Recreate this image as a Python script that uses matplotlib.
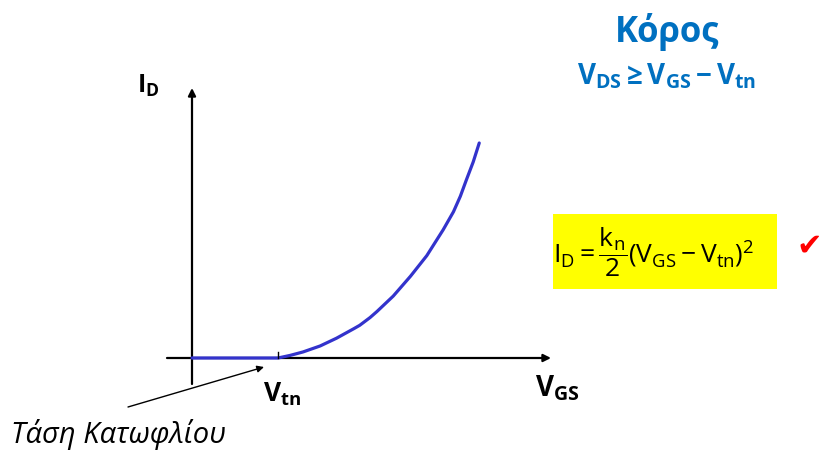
import matplotlib
matplotlib.use('Agg')
import matplotlib.pyplot as plt
from matplotlib.patches import Rectangle

plt.rcParams['font.family'] = ['Open Sans', 'DejaVu Sans']
plt.rcParams['mathtext.fontset'] = 'custom'
plt.rcParams['mathtext.rm'] = 'Open Sans'
plt.rcParams['mathtext.it'] = 'Open Sans:italic'
plt.rcParams['mathtext.bf'] = 'Open Sans:bold'

# Data (arbitrary units, V_tn = 1)
vgs = [0.0, 1.00, 1.14, 1.29, 1.49, 1.68, 1.88, 1.95, 2.07, 2.15, 2.34, 2.54,
       2.73, 2.92, 3.04, 3.12, 3.19, 3.27, 3.34]
i_d = [0.0, 0.0, 0.03, 0.07, 0.14, 0.23, 0.34, 0.38, 0.47, 0.54, 0.72, 0.95,
       1.19, 1.49, 1.70, 1.88, 2.07, 2.28, 2.50]
v_tn = 1.0

title = 'Κόρος'
condition = r'$\mathbf{V_{DS}\geq V_{GS}-V_{tn}}$'
formula = r'$\mathrm{I_D=\dfrac{k_n}{2}\left(V_{GS}-V_{tn}\right)^2}$'
threshold_label = 'Τάση Κατωφλίου'

W, H = 827, 450
fig = plt.figure(figsize=(W / 100, H / 100), dpi=100)
ax = fig.add_axes([0, 0, 1, 1])
X0, Y0, U = 192, 358, 86
ax.set_xlim(-X0 / U, (W - X0) / U)
ax.set_ylim(-(H - Y0) / U, Y0 / U)
ax.axis('off')


def P(px, py):
    return ((px - X0) / U, (Y0 - py) / U)


blue = '#0070C0'

# axes with arrows
ax.annotate('', xy=P(192, 88), xytext=P(192, 384),
            arrowprops=dict(arrowstyle='-|>', lw=1.6, color='black',
                            mutation_scale=11, shrinkA=0, shrinkB=0))
ax.annotate('', xy=P(551, 358), xytext=P(167, 358),
            arrowprops=dict(arrowstyle='-|>', lw=1.6, color='black',
                            mutation_scale=11, shrinkA=0, shrinkB=0))

# curve
ax.plot(vgs, i_d, color='#3333CC', lw=2.3, solid_capstyle='round',
        solid_joinstyle='round', zorder=3)

# Vtn tick
ax.plot([v_tn, v_tn], [0, 6 / U], color='black', lw=1.0, zorder=4)

# annotation arrow
ax.annotate('', xy=P(264, 367), xytext=P(128, 407),
            arrowprops=dict(arrowstyle='-|>', lw=1.0, color='black',
                            mutation_scale=10, shrinkA=0, shrinkB=0))

# labels
ax.text(*P(137, 93), r'$\mathbf{I_D}$', fontsize=18, ha='left', va='baseline')
ax.text(*P(535, 396), r'$\mathbf{V_{GS}}$', fontsize=20, ha='left', va='baseline')
ax.text(*P(263, 402), r'$\mathbf{V_{tn}}$', fontsize=19, ha='left', va='baseline')
ax.text(*P(11, 443), threshold_label, fontsize=21, style='italic',
        ha='left', va='baseline')

# title
ax.text(*P(667, 42), title, fontsize=25, fontweight='bold', color=blue,
        ha='center', va='baseline')
ax.text(*P(667, 84), condition, fontsize=20, color=blue,
        ha='center', va='baseline')

# formula box
ax.text(*P(654, 252), formula, fontsize=19, color='black', ha='center',
        va='center', zorder=5)
x1, y1 = P(553, 289)
x2, y2 = P(777, 214)
ax.add_patch(Rectangle((x1, y1), x2 - x1, y2 - y1, facecolor='#FFFF00',
                       edgecolor='none', zorder=1))

# check mark
ax.text(*P(809, 246), '✔', fontsize=22, color='#FF0000', ha='center',
        va='center', family=['DejaVu Sans'])

fig.savefig('out.png', dpi=100)
